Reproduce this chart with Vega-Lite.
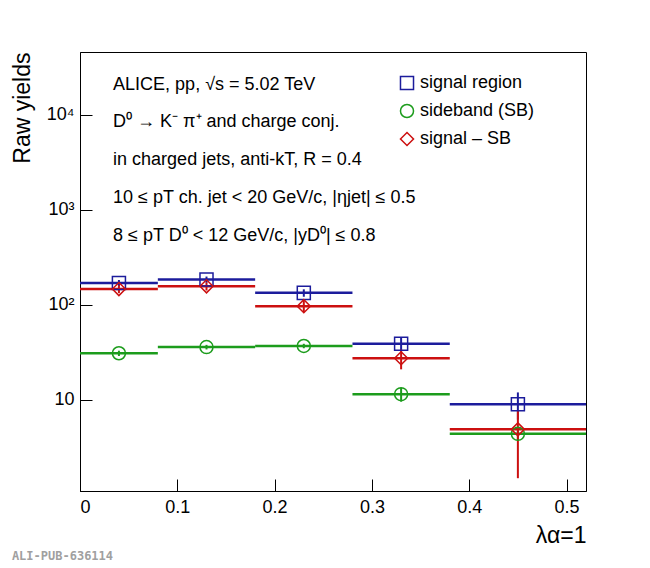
{
  "$schema": "https://vega.github.io/schema/vega-lite/v6.json",
  "width": 506,
  "height": 439,
  "autosize": "none",
  "padding": {"left": 80, "top": 52, "right": 64, "bottom": 77},
  "background": "white",
  "config": {
    "view": {"stroke": "black", "strokeWidth": 1},
    "font": "Liberation Sans",
    "legend": {"title": null, "orient": "none", "legendX": 318, "legendY": 22, "labelFontSize": 18, "labelFont": "Liberation Sans", "labelColor": "black", "symbolFillColor": "white", "symbolStrokeWidth": 1.5, "symbolSize": 170, "rowPadding": 8},
    "axis": {"labelFont": "Liberation Sans", "titleFont": "Liberation Sans", "labelFontSize": 18, "titleFontSize": 23, "titleFontWeight": "normal", "tickSize": -12, "tickColor": "black", "domainColor": "black", "labelColor": "black", "titleColor": "black", "grid": false}
  },
  "datasets": {
    "pts": [
      {"series": "signal region", "xc": 0.04, "xlo": 0.0, "xhi": 0.08, "y": 170, "ylo": 157, "yhi": 183},
      {"series": "signal region", "xc": 0.13, "xlo": 0.08, "xhi": 0.18, "y": 185, "ylo": 171, "yhi": 199},
      {"series": "signal region", "xc": 0.23, "xlo": 0.18, "xhi": 0.28, "y": 134, "ylo": 122, "yhi": 146},
      {"series": "signal region", "xc": 0.33, "xlo": 0.28, "xhi": 0.38, "y": 39, "ylo": 33, "yhi": 45},
      {"series": "signal region", "xc": 0.45, "xlo": 0.38, "xhi": 0.52, "y": 9, "ylo": 6.2, "yhi": 12},
      {"series": "sideband (SB)", "xc": 0.04, "xlo": 0.0, "xhi": 0.08, "y": 31, "ylo": 29, "yhi": 33},
      {"series": "sideband (SB)", "xc": 0.13, "xlo": 0.08, "xhi": 0.18, "y": 36, "ylo": 34, "yhi": 38},
      {"series": "sideband (SB)", "xc": 0.23, "xlo": 0.18, "xhi": 0.28, "y": 37, "ylo": 35, "yhi": 39},
      {"series": "sideband (SB)", "xc": 0.33, "xlo": 0.28, "xhi": 0.38, "y": 11.5, "ylo": 9.6, "yhi": 13.4},
      {"series": "sideband (SB)", "xc": 0.45, "xlo": 0.38, "xhi": 0.52, "y": 4.4, "ylo": 3.7, "yhi": 5.1},
      {"series": "signal – SB", "xc": 0.04, "xlo": 0.0, "xhi": 0.08, "y": 147, "ylo": 133, "yhi": 161},
      {"series": "signal – SB", "xc": 0.13, "xlo": 0.08, "xhi": 0.18, "y": 157, "ylo": 142, "yhi": 172},
      {"series": "signal – SB", "xc": 0.23, "xlo": 0.18, "xhi": 0.28, "y": 97, "ylo": 84, "yhi": 110},
      {"series": "signal – SB", "xc": 0.33, "xlo": 0.28, "xhi": 0.38, "y": 27.5, "ylo": 21, "yhi": 34},
      {"series": "signal – SB", "xc": 0.45, "xlo": 0.38, "xhi": 0.52, "y": 4.9, "ylo": 1.5, "yhi": 7.8}
    ],
    "notes": [
      {"x": 0.034, "y": 20700, "t": "ALICE, pp, √s = 5.02 TeV"},
      {"x": 0.034, "y": 8440, "t": "D⁰ → K⁻ π⁺ and charge conj."},
      {"x": 0.034, "y": 3360, "t": "in charged jets, anti-kT, R = 0.4"},
      {"x": 0.034, "y": 1337, "t": "10 ≤ pT ch. jet < 20 GeV/c, |ηjet| ≤ 0.5"},
      {"x": 0.034, "y": 532, "t": "8 ≤ pT D⁰ < 12 GeV/c, |yD⁰| ≤ 0.8"}
    ],
    "mark": [{"x": -0.07, "y": 0.23, "t": "ALI-PUB-636114"}]
  },
  "layer": [
    {
      "data": {"name": "pts"},
      "mark": {"type": "rule", "strokeWidth": 2.5},
      "encoding": {
        "x": {"field": "xlo", "type": "quantitative", "scale": {"domain": [0, 0.52], "nice": false}, "axis": {"values": [0, 0.1, 0.2, 0.3, 0.4, 0.5], "format": "~g", "title": "λα=1", "titleAnchor": "end", "titlePadding": 8, "labelPadding": 19}},
        "x2": {"field": "xhi"},
        "y": {"field": "y", "type": "quantitative", "scale": {"type": "log", "domain": [1.1, 46000], "nice": false}, "axis": {"values": [10, 100, 1000, 10000], "labelExpr": "datum.value == 10 ? '10' : datum.value == 100 ? '10²' : datum.value == 1000 ? '10³' : '10⁴'", "title": "Raw yields", "titleAnchor": "end", "titlePadding": 12, "labelPadding": 18}},
        "color": {"field": "series", "type": "nominal", "scale": {"domain": ["signal region", "sideband (SB)", "signal – SB"], "range": ["#1c1c9c", "#1c9c1c", "#cc1010"]}}
      }
    },
    {
      "data": {"name": "pts"},
      "mark": {"type": "rule", "strokeWidth": 2},
      "encoding": {
        "x": {"field": "xc", "type": "quantitative"},
        "y": {"field": "ylo", "type": "quantitative"},
        "y2": {"field": "yhi"},
        "color": {"field": "series", "type": "nominal"}
      }
    },
    {
      "data": {"name": "pts"},
      "mark": {"type": "point", "filled": false, "size": 170, "strokeWidth": 1.5, "opacity": 1},
      "encoding": {
        "x": {"field": "xc", "type": "quantitative"},
        "y": {"field": "y", "type": "quantitative"},
        "color": {"field": "series", "type": "nominal"},
        "shape": {"field": "series", "type": "nominal", "scale": {"domain": ["signal region", "sideband (SB)", "signal – SB"], "range": ["square", "circle", "diamond"]}}
      }
    },
    {
      "data": {"name": "notes"},
      "mark": {"type": "text", "align": "left", "baseline": "middle", "fontSize": 18, "font": "Liberation Sans", "color": "black"},
      "encoding": {
        "x": {"field": "x", "type": "quantitative"},
        "y": {"field": "y", "type": "quantitative"},
        "text": {"field": "t"}
      }
    },
    {
      "data": {"name": "mark"},
      "mark": {"type": "text", "align": "left", "baseline": "middle", "fontSize": 12, "font": "DejaVu Sans Mono", "fontWeight": "bold", "color": "#a0a0a0", "clip": false},
      "encoding": {
        "x": {"field": "x", "type": "quantitative"},
        "y": {"field": "y", "type": "quantitative"},
        "text": {"field": "t"}
      }
    }
  ]
}
